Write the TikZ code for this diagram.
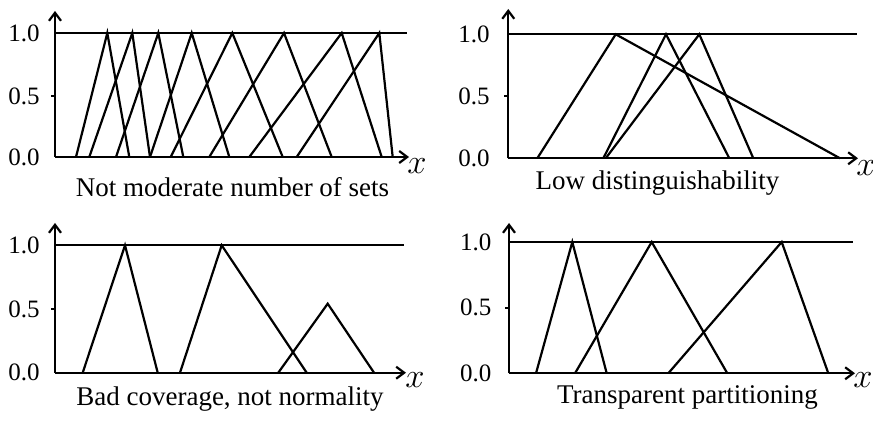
\documentclass[tikz,border=0pt]{standalone}
\usepackage{fontspec}
\setmainfont{Liberation Serif}
\usetikzlibrary{arrows.meta}
\tikzset{
  axis/.style={line width=1.1pt,-{Straight Barb[length=4pt,width=6pt]}},
  mf/.style={line width=1.1pt,line join=miter},
  ticklabel/.style={anchor=east,inner sep=0pt,font=\fontsize{12.5}{14}\selectfont},
  caption/.style={inner sep=0pt,font=\fontsize{13.5}{16}\selectfont},
  varlabel/.style={inner sep=0pt,font=\fontsize{16}{18}\selectfont},
}

\begin{document}
\begin{tikzpicture}[x=0.5pt,y=-0.5pt]
\useasboundingbox (0,0) rectangle (873,422);

%Panel 1: not moderate number of sets
\draw[axis] (55,157) -- (55,11);
\draw[axis] (55,157) -- (409,157);
\draw[mf] (55,33) -- (407,33);
\draw[mf] (51,96) -- (55,96);
\node[ticklabel] (yA10) at (40,33) {1.0};
\node[ticklabel] (yA05) at (40,96) {0.5};
\node[ticklabel] (yA00) at (40,157) {0.0};
\node[varlabel] (xA) at (417,166) {$x$};
\node[caption] (capA) at (232.5,187) {Not moderate number of sets};
\draw[mf] (76,157) -- (107.3,33) -- (129.3,157);
\draw[mf] (89.3,157) -- (132.3,33) -- (150,157);
\draw[mf] (116,157) -- (158.3,33) -- (183.3,157);
\draw[mf] (150,157) -- (191.7,33) -- (229.3,157);
\draw[mf] (170.7,157) -- (232.3,33) -- (282.7,157);
\draw[mf] (209.3,157) -- (284,33) -- (331.7,157);
\draw[mf] (249.3,157) -- (341.7,33) -- (381.7,157);
\draw[mf] (296.7,157) -- (379.3,33) -- (392.7,157);

%Panel 2: low distinguishability
\draw[axis] (508.3,158.3) -- (508.3,9);
\draw[axis] (508.3,158.3) -- (858,158.3);
\draw[mf] (508.3,34.3) -- (856.7,34.3);
\draw[mf] (504.3,96.3) -- (508.3,96.3);
\node[ticklabel] (yB10) at (490,34.3) {1.0};
\node[ticklabel] (yB05) at (490,96.3) {0.5};
\node[ticklabel] (yB00) at (490,158.3) {0.0};
\node[varlabel] (xB) at (866,168) {$x$};
\node[caption] (capB) at (657.5,183) {Low distinguishability};
\draw[mf] (537.3,158.3) -- (615.7,34.3) -- (840,158.3);
\draw[mf] (603.3,158.3) -- (666,34.3) -- (729.3,158.3);
\draw[mf] (605.7,158.3) -- (699.3,34.3) -- (753.3,158.3);

%Panel 3: bad coverage, not normality
\draw[axis] (55,372.7) -- (55,223);
\draw[axis] (55,372.7) -- (406,372.7);
\draw[mf] (55,245.3) -- (404,245.3);
\draw[mf] (51,309) -- (55,309);
\node[ticklabel] (yC10) at (40,245.3) {1.0};
\node[ticklabel] (yC05) at (40,309) {0.5};
\node[ticklabel] (yC00) at (40,372.7) {0.0};
\node[varlabel] (xC) at (415,380) {$x$};
\node[caption] (capC) at (230,399.3) {Bad coverage, not normality};
\draw[mf] (82.7,372.7) -- (125,245.3) -- (157.7,372.7);
\draw[mf] (180,372.7) -- (221.7,245.3) -- (306.7,372.7);
\draw[mf] (278.3,372.7) -- (327.7,303.7) -- (374,372.7);

%Panel 4: transparent partitioning
\draw[axis] (509,373.3) -- (509,223);
\draw[axis] (509,373.3) -- (855,373.3);
\draw[mf] (509,242) -- (853,242);
\draw[mf] (505,307.7) -- (509,307.7);
\node[ticklabel] (yD10) at (491.7,242) {1.0};
\node[ticklabel] (yD05) at (491.7,307.7) {0.5};
\node[ticklabel] (yD00) at (491.7,373.3) {0.0};
\node[varlabel] (xD) at (863,380) {$x$};
\node[caption] (capD) at (687.5,397.7) {Transparent partitioning};
\draw[mf] (536,373.3) -- (572.3,242) -- (606.7,373.3);
\draw[mf] (575,373.3) -- (651.7,242) -- (727.3,373.3);
\draw[mf] (668.3,373.3) -- (781.7,242) -- (828.3,373.3);
\end{tikzpicture}
\end{document}
